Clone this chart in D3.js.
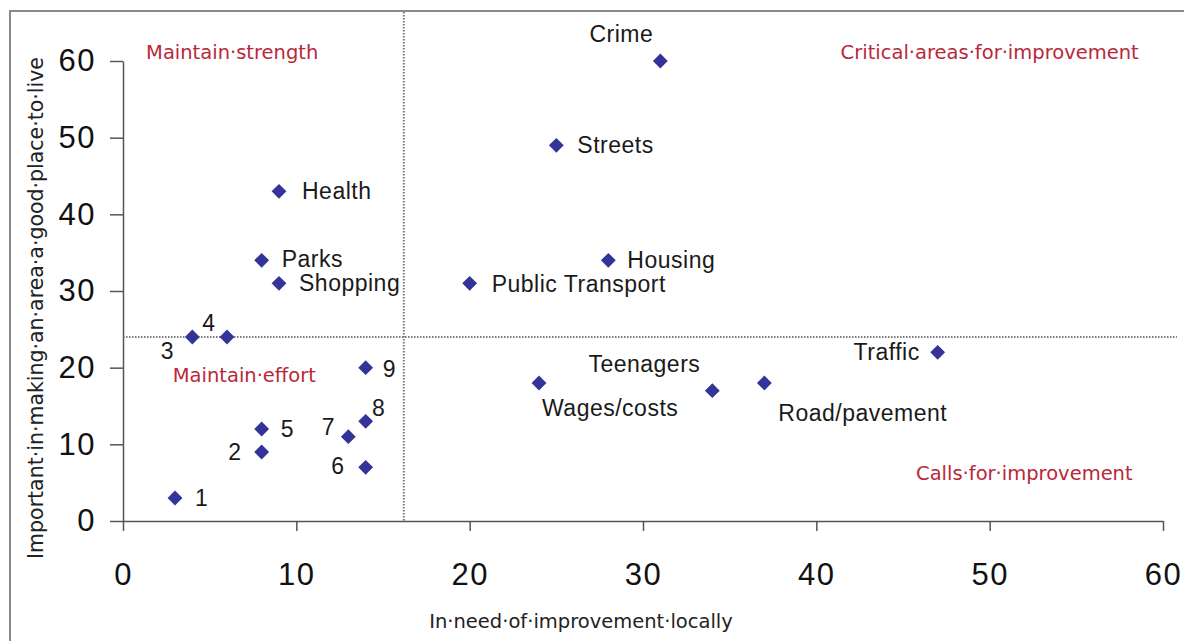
<!DOCTYPE html>
<html>
<head>
<meta charset="utf-8">
<script src="https://cdn.jsdelivr.net/npm/d3@7"></script>
<style>
  html, body { margin: 0; padding: 0; background: #fff; }
  svg { display: block; }
</style>
</head>
<body>
<div id="chart"></div>
<script>
// Data
const names = ['Crime', 'Streets', 'Health', 'Parks', 'Shopping', 'Public Transport', 'Housing',
  '3', '4', '9', '8', '7', '5', '2', '6', '1', 'Traffic', 'Wages/costs', 'Teenagers', 'Road/pavement'];
const needValues = [31, 25, 9, 8, 9, 20, 28, 4, 6, 14, 14, 13, 8, 8, 14, 3, 47, 24, 34, 37];
const importanceValues = [60, 49, 43, 34, 31, 31, 34, 24, 24, 20, 13, 11, 12, 9, 7, 3, 22, 18, 17, 18];
const xTicks = [0, 10, 20, 30, 40, 50, 60];
const yTicks = [0, 10, 20, 30, 40, 50, 60];
const xDivider = 16.2;
const yDivider = 24;
const quadrantNames = ['Maintain·strength', 'Critical·areas·for·improvement', 'Maintain·effort', 'Calls·for·improvement'];
const xTitle = 'In·need·of·improvement·locally';
const yTitle = 'Important·in·making·an·area·a·good·place·to·live';

// label placement (pixels from the marker)
const labelPos = {
  'Crime': { dx: -39, dy: -19, anchor: 'middle' },
  'Streets': { dx: 21, dy: 8, anchor: 'start' },
  'Health': { dx: 23, dy: 8, anchor: 'start' },
  'Parks': { dx: 20, dy: 7, anchor: 'start' },
  'Shopping': { dx: 20, dy: 8, anchor: 'start' },
  'Public Transport': { dx: 22, dy: 9, anchor: 'start' },
  'Housing': { dx: 19, dy: 8, anchor: 'start' },
  '3': { dx: -25, dy: 22, anchor: 'middle' },
  '4': { dx: -18, dy: -6, anchor: 'middle' },
  '9': { dx: 17, dy: 9, anchor: 'start' },
  '8': { dx: 13, dy: -5, anchor: 'middle' },
  '7': { dx: -20, dy: -2, anchor: 'middle' },
  '5': { dx: 19, dy: 8, anchor: 'start' },
  '2': { dx: -20, dy: 8, anchor: 'end' },
  '6': { dx: -21, dy: 7, anchor: 'end' },
  '1': { dx: 20, dy: 8, anchor: 'start' },
  'Traffic': { dx: -18, dy: 8, anchor: 'end' },
  'Wages/costs': { dx: 3, dy: 33, anchor: 'start' },
  'Teenagers': { dx: -12, dy: -19, anchor: 'end' },
  'Road/pavement': { dx: 14, dy: 38, anchor: 'start' }
};
// quadrant label centres in data units
const quadrantPos = [[6.3, 61.2], [50.0, 61.2], [7.0, 19.0], [52.0, 6.3]];

const width = 1184, height = 641;
const numFont = '"Liberation Sans", Arial, sans-serif';
const noteFont = '"DejaVu Sans", Verdana, sans-serif';
const red = '#b8283a';
const markColor = '#333399';

const svg = d3.select('#chart').append('svg')
  .attr('width', width)
  .attr('height', height);

// outer frame
svg.append('rect')
  .attr('x', 10).attr('y', 11)
  .attr('width', 1180).attr('height', 650)
  .attr('fill', '#fff')
  .attr('stroke', '#8a8a8a')
  .attr('stroke-width', 2);

const x = d3.scaleLinear().domain([0, 60]).range([123, 1163]);
const y = d3.scaleLinear().domain([0, 60]).range([521, 61]);

// divider lines
svg.append('line')
  .attr('x1', x(xDivider)).attr('x2', x(xDivider))
  .attr('y1', y(66.4)).attr('y2', y(0))
  .attr('stroke', '#7a7a7a').attr('stroke-width', 2)
  .attr('stroke-dasharray', '1.5,1.5');

svg.append('line')
  .attr('x1', x(0)).attr('x2', x(60.8))
  .attr('y1', y(yDivider)).attr('y2', y(yDivider))
  .attr('stroke', '#7a7a7a').attr('stroke-width', 2)
  .attr('stroke-dasharray', '1.5,1.5');

// axes
const xAxis = svg.append('g')
  .attr('transform', `translate(0,${y(0)})`)
  .call(d3.axisBottom(x).tickValues(xTicks).tickSize(10).tickPadding(32).tickSizeOuter(0));
const yAxis = svg.append('g')
  .attr('transform', `translate(${x(0)},0)`)
  .call(d3.axisLeft(y).tickValues(yTicks).tickSize(13).tickPadding(14).tickSizeOuter(0));

[xAxis, yAxis].forEach(g => {
  g.select('.domain').attr('stroke', '#555').attr('stroke-width', 1.5);
  g.selectAll('.tick line').attr('stroke', '#555').attr('stroke-width', 1.5);
  g.selectAll('.tick text')
    .attr('fill', '#111')
    .style('font-family', numFont)
    .style('font-size', '31px')
    .style('letter-spacing', '1.5px');
});

// quadrant notes
svg.selectAll('.quad')
  .data(quadrantNames)
  .enter()
  .append('text')
  .attr('class', 'quad')
  .attr('x', (d, i) => x(quadrantPos[i][0]))
  .attr('y', (d, i) => y(quadrantPos[i][1]))
  .attr('dy', '0.35em')
  .attr('text-anchor', 'middle')
  .style('font-family', noteFont)
  .style('font-size', '19.5px')
  .style('fill', red)
  .text(d => d);

// markers
const points = names.map((n, i) => ({ name: n, need: needValues[i], imp: importanceValues[i] }));

svg.selectAll('.pt')
  .data(points)
  .enter()
  .append('path')
  .attr('class', 'pt')
  .attr('d', d3.symbol().type(d3.symbolSquare).size(110))
  .attr('transform', d => `translate(${x(d.need)},${y(d.imp)}) rotate(45)`)
  .attr('fill', markColor);

svg.selectAll('.lbl')
  .data(points)
  .enter()
  .append('text')
  .attr('class', 'lbl')
  .attr('x', d => x(d.need) + labelPos[d.name].dx)
  .attr('y', d => y(d.imp) + labelPos[d.name].dy)
  .attr('text-anchor', d => labelPos[d.name].anchor)
  .style('font-family', numFont)
  .style('font-size', '23px')
  .style('letter-spacing', '0.5px')
  .style('fill', '#1a1a1a')
  .text(d => d.name);

// axis titles
svg.append('text')
  .attr('x', 581).attr('y', 628)
  .attr('text-anchor', 'middle')
  .style('font-family', noteFont)
  .style('font-size', '19.5px')
  .style('fill', '#222')
  .text(xTitle);

svg.append('text')
  .attr('transform', 'translate(43,308) rotate(-90)')
  .attr('text-anchor', 'middle')
  .style('font-family', noteFont)
  .style('font-size', '20.5px')
  .style('fill', '#222')
  .text(yTitle);
</script>
</body>
</html>
